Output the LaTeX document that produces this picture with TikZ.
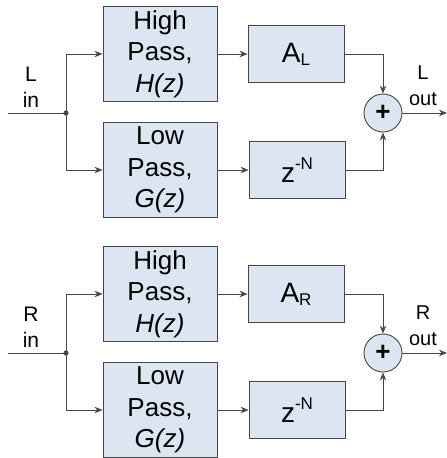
\documentclass[tikz,border=0pt]{standalone}
\usepackage{fontspec}
\setmainfont{Liberation Sans}
\usetikzlibrary{positioning, arrows.meta}
\definecolor{boxfill}{RGB}{220,230,242}
\definecolor{boxline}{RGB}{70,70,70}

\begin{document}
\begin{tikzpicture}[x=1pt,y=-1pt,>={Stealth[length=8pt,width=6.5pt]},on grid,
    block/.style={draw=boxline,fill=boxfill,line width=0.9pt,align=center,
      inner sep=0pt,font=\fontsize{26}{31.5}\selectfont},
    filt/.style={block,minimum width=114pt,minimum height=95pt},
    gainbox/.style={block,minimum width=96pt,minimum height=57pt,
      font=\fontsize{28}{30}\selectfont},
    adder/.style={circle,draw=boxline,fill=boxfill,line width=0.9pt,
      minimum size=38pt,inner sep=0pt,font=\fontsize{26}{26}\selectfont\bfseries},
    sig/.style={draw=boxline,line width=0.9pt},
    lbl/.style={align=center,font=\fontsize{21}{26}\selectfont}]
    \useasboundingbox (0,0) rectangle (447,458);

    % left channel
    \node[filt] (hpL) at (160,54) {High\\Pass,\\\textit{H(z)}};
    \node[filt] (lpL) [below=116pt of hpL] {Low\\Pass,\\\textit{G(z)}};
    \node[gainbox] (gainL) [right=136pt of hpL] {A\raisebox{-3pt}{\fontsize{17}{17}\selectfont L}};
    \node[gainbox] (delayL) [right=137pt of lpL] {z\raisebox{13pt}{\fontsize{17}{17}\selectfont -N}};
    \node[adder] (sumL) at (383,113) {+};
    \coordinate (inL) at (8,113);
    \coordinate (jL) at (66,113);
    \coordinate (outL) at (447,113);
    \node[lbl] (inlblL) at (31,87) {L\\in};
    \node[lbl,font=\fontsize{20}{26}\selectfont] (outlblL) at (423,86) {L\\out};

    \fill[boxline] (jL) circle (2.6pt);
    \draw[sig] (inL) -- (jL);
    \draw[sig,->] (jL) |- (hpL.west);
    \draw[sig,->] (jL) |- (lpL.west);
    \draw[sig,->] (hpL) -- (gainL);
    \draw[sig,->] (lpL) -- (delayL);
    \draw[sig,->] (gainL.east) -| (sumL.north);
    \draw[sig,->] (delayL.east) -| (sumL.south);
    \draw[sig,->] (sumL) -- (outL);

    % right channel
    \node[filt] (hpR) at (160,294) {High\\Pass,\\\textit{H(z)}};
    \node[filt] (lpR) [below=116pt of hpR] {Low\\Pass,\\\textit{G(z)}};
    \node[gainbox] (gainR) [right=136pt of hpR] {A\raisebox{-3pt}{\fontsize{17}{17}\selectfont R}};
    \node[gainbox] (delayR) [right=137pt of lpR] {z\raisebox{13pt}{\fontsize{17}{17}\selectfont -N}};
    \node[adder] (sumR) at (383,353) {+};
    \coordinate (inR) at (8,353);
    \coordinate (jR) at (66,353);
    \coordinate (outR) at (447,353);
    \node[lbl] (inlblR) at (31,327) {R\\in};
    \node[lbl,font=\fontsize{20}{26}\selectfont] (outlblR) at (423,326) {R\\out};

    \fill[boxline] (jR) circle (2.6pt);
    \draw[sig] (inR) -- (jR);
    \draw[sig,->] (jR) |- (hpR.west);
    \draw[sig,->] (jR) |- (lpR.west);
    \draw[sig,->] (hpR) -- (gainR);
    \draw[sig,->] (lpR) -- (delayR);
    \draw[sig,->] (gainR.east) -| (sumR.north);
    \draw[sig,->] (delayR.east) -| (sumR.south);
    \draw[sig,->] (sumR) -- (outR);
\end{tikzpicture}
\end{document}
